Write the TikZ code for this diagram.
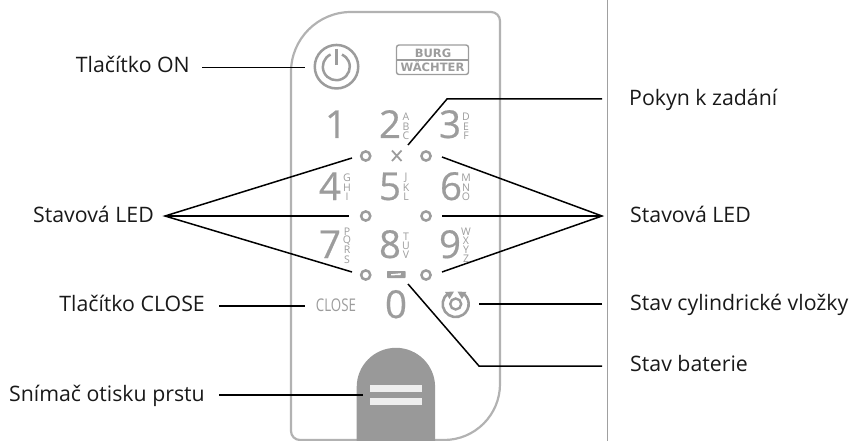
\documentclass[tikz,border=0pt]{standalone}
\usepackage{fontspec}
\setmainfont{Open Sans}
\newfontfamily\logofont{DejaVu Sans}
\newfontfamily\keyfont{Open Sans}[FakeBold=0.5]
\definecolor{keygray}{HTML}{9C9C9C}
\definecolor{panelgray}{HTML}{B2B2B2}
\definecolor{padgray}{HTML}{999999}
\definecolor{barlight}{HTML}{EEEEEE}
\definecolor{sepgray}{HTML}{A0A0A0}
\tikzset{
  lbl/.style={inner sep=0pt,text=black!90,font=\fontsize{21.3}{25}\selectfont},
  lblL/.style={lbl,anchor=base east},
  lblR/.style={lbl,anchor=base west},
  conn/.style={draw=black,line width=1.5pt},
  digit/.style={inner sep=0pt,anchor=base,text=keygray,font=\keyfont\fontsize{38.5}{44}\selectfont},
  tiny/.style={inner sep=0pt,anchor=center,text=keygray,font=\fontsize{10.5}{11}\selectfont},
  led/.style={circle,draw=keygray,line width=2.5pt,minimum size=9.2pt,inner sep=0pt},
  icon/.style={draw=keygray,line width=2.5pt},
  logo/.style={inner sep=0pt,anchor=center,text=keygray,font=\logofont\bfseries\fontsize{11.5}{12}\selectfont}
}
\begin{document}
\begin{tikzpicture}[x=1pt,y=-1pt]
\useasboundingbox (0,0) rectangle (856,441);
% separator
\coordinate (sepT) at (607,0); \coordinate (sepB) at (607,441);
\draw[sepgray,line width=1pt] (sepT) -- (sepB);
% panel
\draw[panelgray,line width=2.2pt] (291,72) arc[start angle=180,end angle=90,radius=60pt]
  -- (491,12) arc[start angle=90,end angle=0,radius=9pt]
  -- (500,384) arc[start angle=0,end angle=-90,radius=56pt]
  -- (300,440) arc[start angle=270,end angle=180,radius=9pt] -- cycle;
% fingerprint
\fill[padgray] (356.7,442) -- (356.7,387) arc[start angle=180,end angle=0,radius=39.2pt] -- (435,442) -- cycle;
\fill[barlight] (370,385) rectangle (422,392);
\fill[barlight] (370,398) rectangle (422,405);
% power button
\node[circle,icon,minimum size=43.5pt,inner sep=0pt] (power) at (336.5,66.7) {};
\draw[icon] (330.6,54.5) arc[start angle=115,end angle=425,radius=13.5pt];
\draw[icon] (336.5,49) -- (336.5,65);
% logo
\draw[keygray,line width=1.4pt,rounded corners=2.5pt] (396.5,45) rectangle (468.5,74.5);
\draw[keygray,line width=1.4pt] (396.5,60) -- (468.5,60);
\node[logo] (burg) at (433,53) {BURG};
\node[logo] (waechter) at (432.5,66.5) {WÄCHTER};
% digits
\node[digit] (d1) at (336,138) {1};
\node[digit] (d2) at (390,138) {2};
\node[digit] (d3) at (450,138) {3};
\node[digit] (d4) at (330,200) {4};
\node[digit] (d5) at (390,200) {5};
\node[digit] (d6) at (451,200) {6};
\node[digit] (d7) at (330,258) {7};
\node[digit] (d8) at (390,258) {8};
\node[digit] (d9) at (450,258) {9};
\node[digit] (d0) at (396,318) {0};
% small letters
\foreach \t/\px/\py in {A/406/117,B/406/126.5,C/406/136,D/466/117,E/466/126.5,F/466/136,
  G/347/178,H/347/187.5,I/347/197,J/406/178,K/406/187.5,L/406/197,M/466/178,N/466/187.5,O/466/197,
  P/347/232,Q/347/241,R/347/250,S/347/260,T/406/237,U/406/246,V/406/255,
  W/466/232,X/466/241,Y/466/250,Z/466/259}
  \node[tiny] at (\px,\py) {\t};
% LEDs
\node[led] (l1) at (365.7,156) {};
\node[led] (l2) at (426,156) {};
\node[led] (l3) at (365.7,216) {};
\node[led] (l4) at (426,216) {};
\node[led] (l5) at (365.7,275) {};
\node[led] (l6) at (426,275) {};
% prompt cross
\draw[keygray,line width=1.8pt] (392,150.5) -- (401.5,161) (401.5,150.5) -- (392,161);
% battery
\fill[keygray,rounded corners=.6pt] (387,271) rectangle (405.5,278);
\fill[white] (391,274.2) -- (401,273.2) -- (400.5,275) -- (391,275.4) -- cycle;
% CLOSE
\node[inner sep=0pt,text=keygray,font=\fontsize{17.5}{20}\selectfont,transform shape,xscale=.76] (closeb) at (336,305.7) {CLOSE};
% cylinder icon
\node[circle,draw=keygray,line width=2.4pt,minimum size=11pt,inner sep=0pt] (cylc) at (455.7,304) {};
\draw[keygray,line width=2.6pt] (448.2,293.4) arc[start angle=125,end angle=415,radius=13pt];
\fill[keygray] (445,292) -- (454,291.5) -- (449.5,299) -- cycle;
\fill[keygray] (466.4,292) -- (457.4,291.5) -- (461.9,299) -- cycle;
% labels
\node[lblL] (tOn) at (190,73) {Tlačítko ON};
\node[lblL] (tLedL) at (154,222.5) {Stavová LED};
\node[lblL] (tClose) at (205,311.7) {Tlačítko CLOSE};
\node[lblL] (tFinger) at (205,401) {Snímač otisku prstu};
\node[lblR] (tPrompt) at (629,106) {Pokyn k zadání};
\node[lblR] (tLedR) at (630,222.5) {Stavová LED};
\node[lblR] (tCyl) at (630,310) {Stav cylindrické vložky};
\node[lblR] (tBat) at (630,371) {Stav baterie};
% connector ends
\coordinate (aOn) at (202,67.5); \coordinate (bOn) at (305,67.5);
\coordinate (aL) at (165,216);
\coordinate (b1) at (352,158); \coordinate (b3) at (349,216); \coordinate (b5) at (352,272);
\coordinate (aR) at (602,216);
\coordinate (b2) at (442,157); \coordinate (b4) at (442,216); \coordinate (b6) at (442,272);
\coordinate (aP) at (602,99); \coordinate (mP) at (447,99); \coordinate (bP) at (408,145);
\coordinate (aC) at (219,306); \coordinate (bC) at (305,306);
\coordinate (aF) at (219,395); \coordinate (bF) at (363,395);
\coordinate (aY) at (602,304); \coordinate (bY) at (479,304);
\coordinate (aB) at (602,366); \coordinate (mB) at (479,366); \coordinate (bB) at (408,284);
% connectors
\draw[conn] (aOn) -- (bOn);
\draw[conn] (aC) -- (bC);
\draw[conn] (aF) -- (bF);
\draw[conn] (aY) -- (bY);
\draw[conn,line join=miter] (aP) -- (mP) -- (bP);
\draw[conn,line join=miter] (aB) -- (mB) -- (bB);
\draw[conn,line join=miter] (b1) -- (aL) -- (b5);
\draw[conn] (aL) -- (b3);
\draw[conn,line join=miter] (b2) -- (aR) -- (b6);
\draw[conn] (aR) -- (b4);
\end{tikzpicture}
\end{document}
